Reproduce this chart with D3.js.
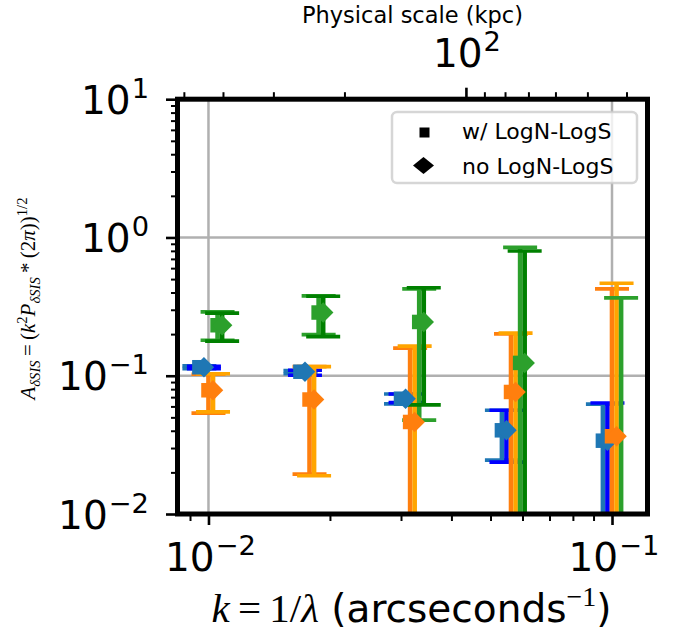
<!DOCTYPE html>
<html>
<head>
<meta charset="utf-8">
<script src="https://cdn.jsdelivr.net/npm/d3@7"></script>
<style>
  body { margin: 0; background: #fff; }
  svg { display: block; }
</style>
</head>
<body>
<div id="chart"></div>
<script>
// k bins (arcsec^-1)
var kBins = [0.01, 0.0178, 0.0316, 0.0562, 0.1];

// amplitude and the low / high end of each error bar, one set per series
// (0.001 = bar runs off the bottom of the plot)
var tabBlueA  = [0.1152, 0.1069, 0.0682, 0.0403, 0.0339];
var tabBlueLo = [0.1124, 0.1034, 0.0625, 0.0245, 0.001];
var tabBlueHi = [0.1181, 0.1087, 0.0738, 0.0563, 0.0624];

var blueA  = [0.1152, 0.1069, 0.0682, 0.0403, 0.0339];
var blueLo = [0.1124, 0.1008, 0.0638, 0.0237, 0.001];
var blueHi = [0.1171, 0.1096, 0.0738, 0.0563, 0.0635];

var tabOrangeA  = [0.0785, 0.0673, 0.0463, 0.0763, 0.0365];
var tabOrangeLo = [0.0536, 0.0194, 0.001, 0.001, 0.001];
var tabOrangeHi = [0.1025, 0.1162, 0.1586, 0.2006, 0.4243];

var orangeA  = [0.0785, 0.0673, 0.0463, 0.0763, 0.0365];
var orangeLo = [0.0547, 0.0189, 0.001, 0.001, 0.001];
var orangeHi = [0.1034, 0.1162, 0.164, 0.2036, 0.4667];

var tabGreenA  = [0.2318, 0.2865, 0.2449, 0.1238, 0.005];
var tabGreenLo = [0.1806, 0.1986, 0.0477, 0.001, 0.001];
var tabGreenHi = [0.2893, 0.3777, 0.4243, 0.847, 0.3653];

var greenA  = [0.2318, 0.2865, 0.2449, 0.1238, null];
var greenLo = [0.1777, 0.1921, 0.0615, 0.001, null];
var greenHi = [0.2841, 0.3758, 0.4328, 0.798, null];

var legendLabels = ["w/ LogN-LogS", "no LogN-LogS"];

// top axis: physical scale
var kpcPerArcsec = 4.345;
var kpcTicks = [500, 400, 300, 200, 100, 90, 80, 70, 60, 50, 40];

var series = [
  {a: tabBlueA,   lo: tabBlueLo,   hi: tabBlueHi,   ecolor: "#1f77b4", mcolor: "#1f77b4", marker: "s"},
  {a: blueA,      lo: blueLo,      hi: blueHi,      ecolor: "#0000ff", mcolor: "#1f77b4", marker: "D"},
  {a: tabOrangeA, lo: tabOrangeLo, hi: tabOrangeHi, ecolor: "#ff7f0e", mcolor: "#ff7f0e", marker: "s"},
  {a: orangeA,    lo: orangeLo,    hi: orangeHi,    ecolor: "#ffa500", mcolor: "#ff7f0e", marker: "D"},
  {a: tabGreenA,  lo: tabGreenLo,  hi: tabGreenHi,  ecolor: "#2ca02c", mcolor: "#2ca02c", marker: "s"},
  {a: greenA,     lo: greenLo,     hi: greenHi,     ecolor: "#008000", mcolor: "#2ca02c", marker: "D"}
];
var dodge = 1.0263;

var svgWidth = 685, svgHeight = 635;
var box = {left: 177.5, right: 647.5, top: 99.2, bottom: 514};

var svg = d3.select("#chart").append("svg")
  .attr("width", svgWidth)
  .attr("height", svgHeight);

var x = d3.scaleLog().domain([0.00838, 0.12245]).range([box.left, box.right]);
var y = d3.scaleLog().domain([0.01, 10]).range([box.bottom, box.top]);

svg.append("defs").append("clipPath").attr("id", "plotclip")
  .append("rect")
  .attr("x", box.left).attr("y", box.top)
  .attr("width", box.right - box.left).attr("height", box.bottom - box.top);

// grid
var grid = svg.append("g").attr("stroke", "#b0b0b0").attr("stroke-width", 2.5);
grid.selectAll(null).data([0.01, 0.1]).enter().append("line")
  .attr("x1", d => x(d)).attr("x2", d => x(d))
  .attr("y1", box.top).attr("y2", box.bottom);
grid.selectAll(null).data([1, 0.1]).enter().append("line")
  .attr("y1", d => y(d)).attr("y2", d => y(d))
  .attr("x1", box.left).attr("x2", box.right);

// data
var plot = svg.append("g").attr("clip-path", "url(#plotclip)");
var capHalf = 17;

function xpos(si, i) { return x(kBins[i] * Math.pow(dodge, si - 2)); }

series.forEach(function(s, si) {
  var pts = kBins.map((k, i) => ({i: i, a: s.a[i], lo: s.lo[i], hi: s.hi[i]}))
    .filter(d => d.hi != null);
  var g = plot.append("g").attr("stroke", s.ecolor);
  g.selectAll(null).data(pts).enter().append("line")
    .attr("x1", d => xpos(si, d.i)).attr("x2", d => xpos(si, d.i))
    .attr("y1", d => y(d.lo)).attr("y2", d => y(d.hi))
    .attr("stroke-width", 4.6);
  ["lo", "hi"].forEach(function(key) {
    g.selectAll(null).data(pts).enter().append("line")
      .attr("x1", d => xpos(si, d.i) - capHalf).attr("x2", d => xpos(si, d.i) + capHalf)
      .attr("y1", d => y(d[key])).attr("y2", d => y(d[key]))
      .attr("stroke-width", 3.7);
  });
});

var ms = 14.5;
series.forEach(function(s, si) {
  var pts = kBins.map((k, i) => ({i: i, a: s.a[i]})).filter(d => d.a != null);
  var g = plot.append("g").attr("fill", s.mcolor);
  if (s.marker === "s") {
    g.selectAll(null).data(pts).enter().append("rect")
      .attr("x", d => xpos(si, d.i) - ms / 2).attr("y", d => y(d.a) - ms / 2)
      .attr("width", ms).attr("height", ms);
  } else {
    var h = ms * Math.SQRT1_2;
    g.selectAll(null).data(pts).enter().append("path")
      .attr("d", function(d) {
        var cx = xpos(si, d.i), cy = y(d.a);
        return "M" + (cx - h) + "," + cy + "L" + cx + "," + (cy - h) +
               "L" + (cx + h) + "," + cy + "L" + cx + "," + (cy + h) + "Z";
      });
  }
});

// ticks
function minors(lo, hi) {
  var out = [];
  for (var e = lo; e <= hi; e++) for (var m = 2; m <= 9; m++) out.push(m * Math.pow(10, e));
  return out;
}
var xMinor = minors(-3, -1).filter(v => v > x.domain()[0] && v < x.domain()[1]);
var yMinor = minors(-2, 0);

function tickStyle(g, w) {
  g.select(".domain").remove();
  g.selectAll("line").attr("stroke", "#000").attr("stroke-width", w);
}
svg.append("g").attr("transform", `translate(${box.left},0)`)
  .call(d3.axisLeft(y).tickValues([0.01, 0.1, 1, 10]).tickSize(11.5).tickFormat(""))
  .call(g => tickStyle(g, 2.6));
svg.append("g").attr("transform", `translate(${box.left},0)`)
  .call(d3.axisLeft(y).tickValues(yMinor).tickSize(6.5).tickFormat(""))
  .call(g => tickStyle(g, 2));
svg.append("g").attr("transform", `translate(0,${box.bottom})`)
  .call(d3.axisBottom(x).tickValues([0.01, 0.1]).tickSize(11).tickFormat(""))
  .call(g => tickStyle(g, 2.6));
svg.append("g").attr("transform", `translate(0,${box.bottom})`)
  .call(d3.axisBottom(x).tickValues(xMinor).tickSize(7).tickFormat(""))
  .call(g => tickStyle(g, 2));

var xTop = d3.scaleLog()
  .domain([kpcPerArcsec / x.domain()[0], kpcPerArcsec / x.domain()[1]])
  .range([box.left, box.right]);
svg.append("g").attr("transform", `translate(0,${box.top})`)
  .call(d3.axisTop(xTop).tickValues([100]).tickSize(11.5).tickFormat(""))
  .call(g => tickStyle(g, 2.6));
svg.append("g").attr("transform", `translate(0,${box.top})`)
  .call(d3.axisTop(xTop).tickValues(kpcTicks.filter(v => v !== 100)).tickSize(7).tickFormat(""))
  .call(g => tickStyle(g, 2));

// spines
svg.append("rect")
  .attr("x", box.left).attr("y", box.top)
  .attr("width", box.right - box.left).attr("height", box.bottom - box.top)
  .attr("fill", "none").attr("stroke", "#000").attr("stroke-width", 5);

// power-of-ten labels
var tickFont = 39;
function powLabel(px, py, exp, anchor) {
  var t = svg.append("text").attr("x", px).attr("y", py)
    .attr("text-anchor", anchor)
    .style("font-family", "DejaVu Sans").style("font-size", tickFont + "px");
  t.append("tspan").text("10");
  t.append("tspan").attr("dx", 1).attr("dy", -0.41 * tickFont)
    .style("font-size", (0.7 * tickFont) + "px").text(exp);
}
[[10, "1"], [1, "0"], [0.1, "\u22121"], [0.01, "\u22122"]].forEach(function(d) {
  powLabel(149, y(d[0]) + 14.5, d[1], "end");
});
[[0.01, "\u22122"], [0.1, "\u22121"]].forEach(function(d) {
  powLabel(x(d[0]) + 2, 571, d[1], "middle");
});
powLabel(xTop(100) + 1, 67, "2", "middle");

// axis titles
svg.append("text")
  .attr("x", (box.left + box.right) / 2).attr("y", 22.5)
  .attr("text-anchor", "middle")
  .style("font-family", "DejaVu Sans").style("font-size", "22.5px")
  .text("Physical scale (kpc)");

var xl = svg.append("text")
  .attr("x", (box.left + box.right) / 2 - 1).attr("y", 622)
  .attr("text-anchor", "middle")
  .style("font-family", "Liberation Serif").style("font-size", "41px");
xl.append("tspan").style("font-style", "italic").text("k");
xl.append("tspan").text("\u2009=\u20091/");
xl.append("tspan").style("font-style", "italic").text("\u03bb");
xl.append("tspan").style("font-family", "DejaVu Sans").style("font-size", "39px").text(" (arcseconds");
xl.append("tspan").attr("dy", -16).style("font-size", "28px").text("\u22121");
xl.append("tspan").attr("dy", 16).style("font-family", "DejaVu Sans").style("font-size", "39px").text(")");

var yFont = 21;
var yl = svg.append("text")
  .attr("transform", "translate(35,298.5) rotate(-90)")
  .attr("text-anchor", "middle")
  .style("font-family", "Liberation Serif").style("font-size", yFont + "px");
var sub = 0.22 * yFont, sup = 0.4 * yFont, small = (0.7 * yFont) + "px";
yl.append("tspan").style("font-style", "italic").text("A");
yl.append("tspan").attr("dy", sub).style("font-size", small).style("font-style", "italic").text("\u03b4SIS");
yl.append("tspan").attr("dy", -sub).text("\u2009=\u2009(");
yl.append("tspan").style("font-style", "italic").text("k");
yl.append("tspan").attr("dy", -sup).style("font-size", small).text("2");
yl.append("tspan").attr("dy", sup).style("font-style", "italic").text("P");
yl.append("tspan").attr("dy", sub).style("font-size", small).style("font-style", "italic").text("\u03b4SIS");
yl.append("tspan").attr("dy", -sub).text("\u2009*\u2009(2");
yl.append("tspan").style("font-style", "italic").text("\u03c0");
yl.append("tspan").text("))");
yl.append("tspan").attr("dy", -sup).style("font-size", small).text("1/2");

// legend
var lg = svg.append("g");
lg.append("rect")
  .attr("x", 392).attr("y", 112).attr("width", 245).attr("height", 71)
  .attr("rx", 5)
  .attr("fill", "#fff").attr("fill-opacity", 0.8)
  .attr("stroke", "#cccccc").attr("stroke-opacity", 0.8).attr("stroke-width", 2.5);
lg.append("rect").attr("x", 419.5).attr("y", 127.5).attr("width", 10).attr("height", 10)
  .attr("fill", "#000");
lg.append("path").attr("d", "M413,165.5L423.5,157L434,165.5L423.5,174Z").attr("fill", "#000");
lg.selectAll(null).data(legendLabels).enter().append("text")
  .attr("x", 462).attr("y", (d, i) => 138.5 + i * 35)
  .style("font-family", "DejaVu Sans").style("font-size", "22px")
  .text(d => d);
</script>
</body>
</html>
